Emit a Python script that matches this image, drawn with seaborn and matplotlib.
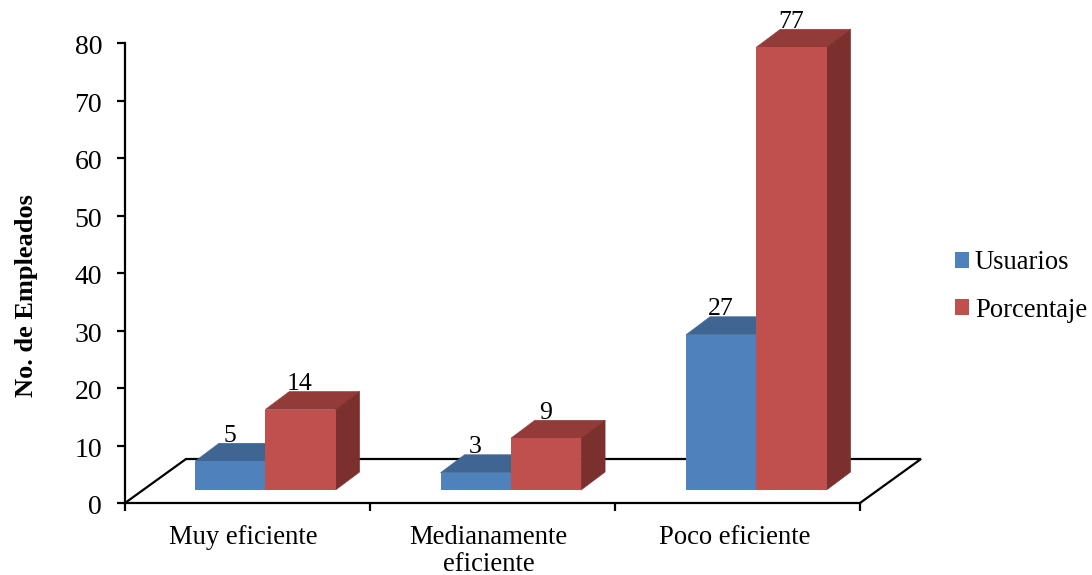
import matplotlib
matplotlib.use("Agg")
import matplotlib.pyplot as plt
from matplotlib.patches import Polygon, Patch
from matplotlib.transforms import ScaledTranslation
import numpy as np
import pandas as pd
import seaborn as sns

categories = ["Muy eficiente", "Medianamente\neficiente", "Poco eficiente"]
usuarios = [5, 3, 27]
porcentaje = [14, 9, 77]
series_names = ["Usuarios", "Porcentaje"]
y_ticks = [0, 10, 20, 30, 40, 50, 60, 70, 80]

front_colors = ["#4F81BD", "#C0504D"]
top_colors = ["#3F6592", "#933B39"]
side_colors = ["#32507A", "#7C302E"]

sns.set_theme(style="white")
plt.rcParams["font.family"] = ["Liberation Serif", "DejaVu Serif"]

table = pd.DataFrame({
    "categoria": categories * 2,
    "serie": [series_names[0]] * 3 + [series_names[1]] * 3,
    "valor": usuarios + porcentaje,
})

W, H = 1092, 575
fig = plt.figure(figsize=(W / 100, H / 100), dpi=100)
ax_l, ax_r, ax_t, ax_b = 125, 860, 43, 503
ax = fig.add_axes([ax_l / W, 1 - ax_b / H, (ax_r - ax_l) / W, (ax_b - ax_t) / H])

px_x = 245.5                    # pixels per category
px_y = (ax_b - ax_t) / 80.0     # pixels per unit of value
bar_w = 70.3 / px_x
lift = 13 / px_y                # bars stand on the floor, above the axis line
depth_x, depth_y = 24 / px_x, 18 / px_y
floor_x, floor_y = 61 / px_x, 44 / px_y
x_min = -(265.3 - ax_l) / px_x
x_max = x_min + (ax_r - ax_l) / px_x
line_w = 1.6

sns.barplot(data=table, x="categoria", y="valor", hue="serie", order=categories,
            hue_order=series_names, palette=front_colors, width=2 * bar_w, gap=0,
            bottom=lift, saturation=1, ax=ax, zorder=4, linewidth=0, legend=False)

ax.set_xlim(x_min, x_max)
ax.set_ylim(0, 80)

# Floor of the 3D plot, behind the bars
ax.plot([x_min, x_min + floor_x, x_max + floor_x, x_max],
        [0, floor_y, floor_y, 0], color="black", lw=line_w, clip_on=False, zorder=1,
        solid_joinstyle="miter")

# Top and side faces extruded from each front face
for s, values in enumerate([usuarios, porcentaje]):
    for k, v in enumerate(values):
        x0 = k - bar_w + s * bar_w
        x1 = x0 + bar_w
        y0, y1 = lift, lift + v
        ax.add_patch(Polygon([(x0, y1), (x1, y1), (x1 + depth_x, y1 + depth_y), (x0 + depth_x, y1 + depth_y)],
                             closed=True, fc=top_colors[s], ec=top_colors[s], lw=0.4, clip_on=False, zorder=3))
        ax.add_patch(Polygon([(x1, y0), (x1 + depth_x, y0 + depth_y), (x1 + depth_x, y1 + depth_y), (x1, y1)],
                             closed=True, fc=side_colors[s], ec=side_colors[s], lw=0.4, clip_on=False, zorder=3))
        ax.annotate(str(v), xy=(x0 + bar_w / 2, y1 + depth_y), xytext=(-0.5, 1),
                    textcoords="offset points", ha="center", va="baseline", fontsize=18.5,
                    color="black", annotation_clip=False, zorder=5)

# Axes: ticks on category boundaries, labels centred between them
ax.set_xticks(np.linspace(x_min, x_max, 4))
ax.set_xticklabels([])
ax.set_xticks([i - 0.09 for i in range(3)], labels=categories, minor=True)
ax.tick_params(axis="x", which="major", bottom=True, length=6, width=line_w, color="black")
ax.tick_params(axis="x", which="minor", bottom=False, length=0, labelsize=19.2, pad=15.5, labelcolor="black")
for lab in ax.get_xticklabels(minor=True):
    lab.set_linespacing(1.12)
ax.set_yticks(y_ticks)
ax.tick_params(axis="y", left=True, length=6, width=line_w, color="black", labelsize=20, pad=10.5, labelcolor="black")
for lab in ax.get_yticklabels():
    lab.set_transform(lab.get_transform() + ScaledTranslation(0, -1.2 / 72, fig.dpi_scale_trans))
ax.set_xlabel("")
ax.set_ylabel("")
fig.text(26.5 / W, 1 - 296 / H, "No. de Empleados", rotation=90, ha="center", va="center",
         fontsize=19, fontweight="bold", color="black")

sns.despine(ax=ax)
for side in ("left", "bottom"):
    ax.spines[side].set_color("black")
    ax.spines[side].set_linewidth(line_w)

handles = [Patch(facecolor=c, edgecolor="none", label=n) for c, n in zip(front_colors, series_names)]
ax.legend(handles=handles, loc="center left", bbox_to_anchor=(955 / W, 1 - 286.5 / H),
          bbox_transform=fig.transFigure, frameon=False, fontsize=19.2, handlelength=0.525,
          handleheight=0.525, handletextpad=0.22, labelspacing=0.83, borderpad=0, borderaxespad=0,
          labelcolor="black")

fig.savefig("out.png", dpi=100)
